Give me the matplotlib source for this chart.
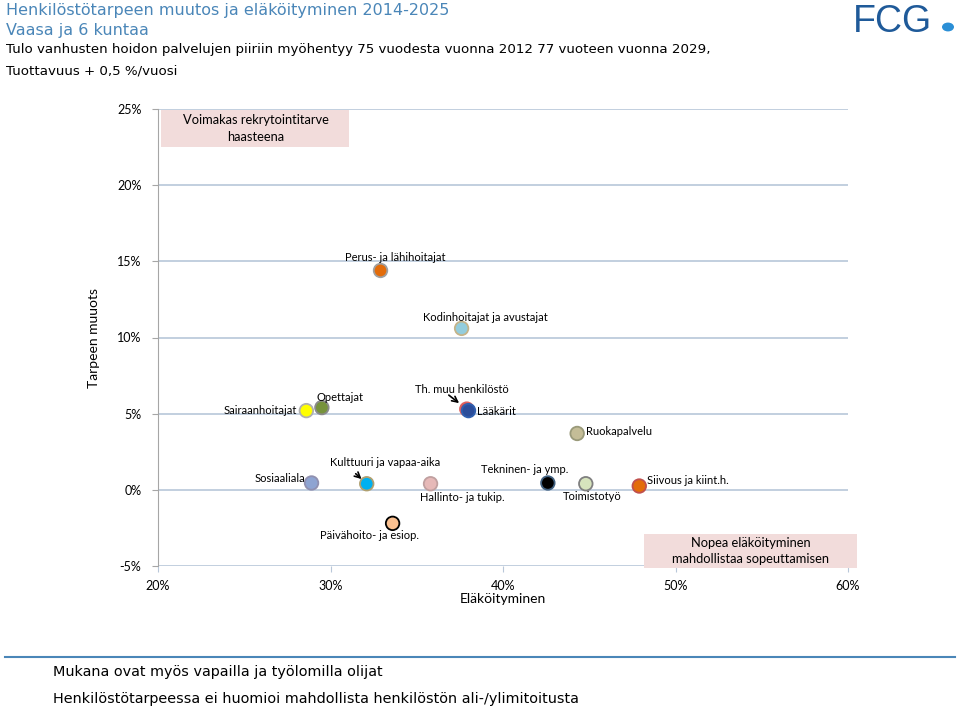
import matplotlib
matplotlib.use('Agg')
import matplotlib.pyplot as plt
from matplotlib.patches import Rectangle, Circle

# ammattiryhmät: eläköityminen (%), tarpeen muutos (%)
groups = ['Perus- ja lähihoitajat', 'Kodinhoitajat ja avustajat', 'Sairaanhoitajat', 'Opettajat',
          'Th. muu henkilöstö', 'Lääkärit', 'Ruokapalvelu', 'Sosiaaliala', 'Kulttuuri ja vapaa-aika',
          'Hallinto- ja tukip.', 'Tekninen- ja ymp.', 'Toimistotyö', 'Siivous ja kiint.h.',
          'Päivähoito- ja esiop.']
retire = [32.9, 37.6, 28.6, 29.5, 37.9, 38.0, 44.3, 28.9, 32.1, 35.8, 42.6, 44.8, 47.9, 33.6]
change = [14.4, 10.6, 5.2, 5.4, 5.3, 5.2, 3.7, 0.45, 0.4, 0.4, 0.45, 0.4, 0.25, -2.2]
fills = ['#E36C0A', '#93CDDD', '#FFFF00', '#77933C', '#C0504D', '#2C4D9A', '#C4BD97',
         '#8EA4D2', '#00B0F0', '#E6B9B8', '#000000', '#D7E4BD', '#E36C0A', '#FAC090']
edges = ['#A0A0A0', '#C4B48A', '#B0B0B0', '#8A8A8A', '#E06060', '#3060B0', '#9A9A7A',
         '#9090B0', '#B0A070', '#C0A0A0', '#406080', '#808080', '#C0504D', '#000000']
# label offsets in pixels and alignment
offs = [(15, 13, 'center'), (24, 11, 'center'), (-9, 0, 'right'), (-5, 10, 'left'),
        (-5, 20, 'center'), (9, -1, 'left'), (9, 2, 'left'), (-6, 4, 'right'),
        (18, 21, 'center'), (32, -14, 'center'), (-23, 13, 'center'), (6, -13, 'center'),
        (8, 6, 'left'), (-23, -12, 'center')]

xticks = [20, 30, 40, 50, 60]
yticks = [-5, 0, 5, 10, 15, 20, 25]

chart_font = 'Lato'
head_font = 'DejaVu Sans'

fig = plt.figure(figsize=(9.59, 7.08), dpi=100)
ax = fig.add_axes([158 / 959, 1 - 566 / 708, 690 / 959, 457 / 708])

ax.set_xlim(20, 60)
ax.set_ylim(-5, 25)
ax.set_xticks(xticks)
ax.set_yticks(yticks)
ax.set_xticklabels(['%d%%' % v for v in xticks], fontfamily=chart_font, fontsize=9)
ax.set_yticklabels(['%d%%' % v for v in yticks], fontfamily=chart_font, fontsize=9)
ax.grid(axis='y', color='#B8C7D9', linewidth=1.2)
ax.set_axisbelow(True)
for s in ['top', 'right', 'bottom']:
    ax.spines[s].set_visible(False)
ax.spines['left'].set_color('#A6A6A6')
ax.tick_params(axis='y', length=4, color='#A6A6A6', pad=8)
ax.tick_params(axis='x', length=4, color='#B8C7D9', pad=6)

ax.set_xlabel('Eläköityminen', fontfamily=chart_font, fontsize=10, labelpad=1)
ax.set_ylabel('Tarpeen muuots', fontfamily=chart_font, fontsize=10, labelpad=12)

# taustalaatikot
ax.add_patch(Rectangle((20.2, 22.5), 10.9, 2.45, facecolor='#F2DCDB', edgecolor='none', zorder=1))
ax.text(25.65, 23.72, 'Voimakas rekrytointitarve\nhaasteena', ha='center', va='center',
        fontfamily=chart_font, fontsize=9.3, linespacing=1.45, zorder=2)
ax.add_patch(Rectangle((48.2, -5.15), 12.3, 2.25, facecolor='#F2DCDB', edgecolor='none',
                       zorder=1, clip_on=False))
ax.text(54.35, -4.0, 'Nopea eläköityminen\nmahdollistaa sopeuttamisen', ha='center', va='center',
        fontfamily=chart_font, fontsize=9.3, linespacing=1.45, zorder=2)

ax.scatter(retire, change, s=95, c=fills, edgecolors=edges, linewidths=1.3, zorder=3)

for name, x, y, (dx, dy, ha) in zip(groups, retire, change, offs):
    ax.annotate(name, (x, y), xytext=(dx, dy), textcoords='offset pixels', ha=ha, va='center',
                fontfamily=chart_font, fontsize=8, zorder=4)

# pienet nuolet
ax.annotate('', xy=(37.9, 5.3), xytext=(-18, 14), textcoords='offset pixels',
            arrowprops=dict(arrowstyle='->', color='black', lw=1.2, shrinkA=0, shrinkB=7))
ax.annotate('', xy=(32.1, 0.4), xytext=(-11, 10), textcoords='offset pixels',
            arrowprops=dict(arrowstyle='->', color='black', lw=1.2, shrinkA=0, shrinkB=5))

# otsikot
fig.text(6 / 959, 1 - 10 / 708, 'Henkilöstötarpeen muutos ja eläköityminen 2014-2025',
         color='#4A86B8', fontfamily=head_font, fontsize=11.5, va='center')
fig.text(6 / 959, 1 - 30 / 708, 'Vaasa ja 6 kuntaa', color='#4A86B8',
         fontfamily=head_font, fontsize=11.5, va='center')
fig.text(6 / 959, 1 - 49 / 708,
         'Tulo vanhusten hoidon palvelujen piiriin myöhentyy 75 vuodesta vuonna 2012 77 vuoteen vuonna 2029,',
         fontfamily=head_font, fontsize=9.6, va='center')
fig.text(6 / 959, 1 - 71 / 708, 'Tuottavuus + 0,5 %/vuosi', fontfamily=head_font, fontsize=9.6,
         va='center')

# logo
fig.text(853 / 959, 1 - 22 / 708, 'FCG', color='#1F5A99', fontfamily='Liberation Sans',
         fontsize=27, va='center', ha='left')
fig.patches.append(Circle((948 / 959, 1 - 27 / 708), 6 / 959, transform=fig.transFigure,
                          facecolor='#2B8FD6', edgecolor='none'))

# alaosa
fig.add_artist(plt.Line2D([5 / 959, 955 / 959], [1 - 657 / 708, 1 - 657 / 708],
                          color='#4A86B8', linewidth=1.5))
fig.text(53 / 959, 1 - 672 / 708, 'Mukana ovat myös vapailla ja työlomilla olijat',
         fontfamily=head_font, fontsize=10.4, va='center')
fig.text(53 / 959, 1 - 699 / 708, 'Henkilöstötarpeessa ei huomioi mahdollista henkilöstön ali-/ylimitoitusta',
         fontfamily=head_font, fontsize=10.4, va='center')

fig.savefig('out.png', dpi=100)
